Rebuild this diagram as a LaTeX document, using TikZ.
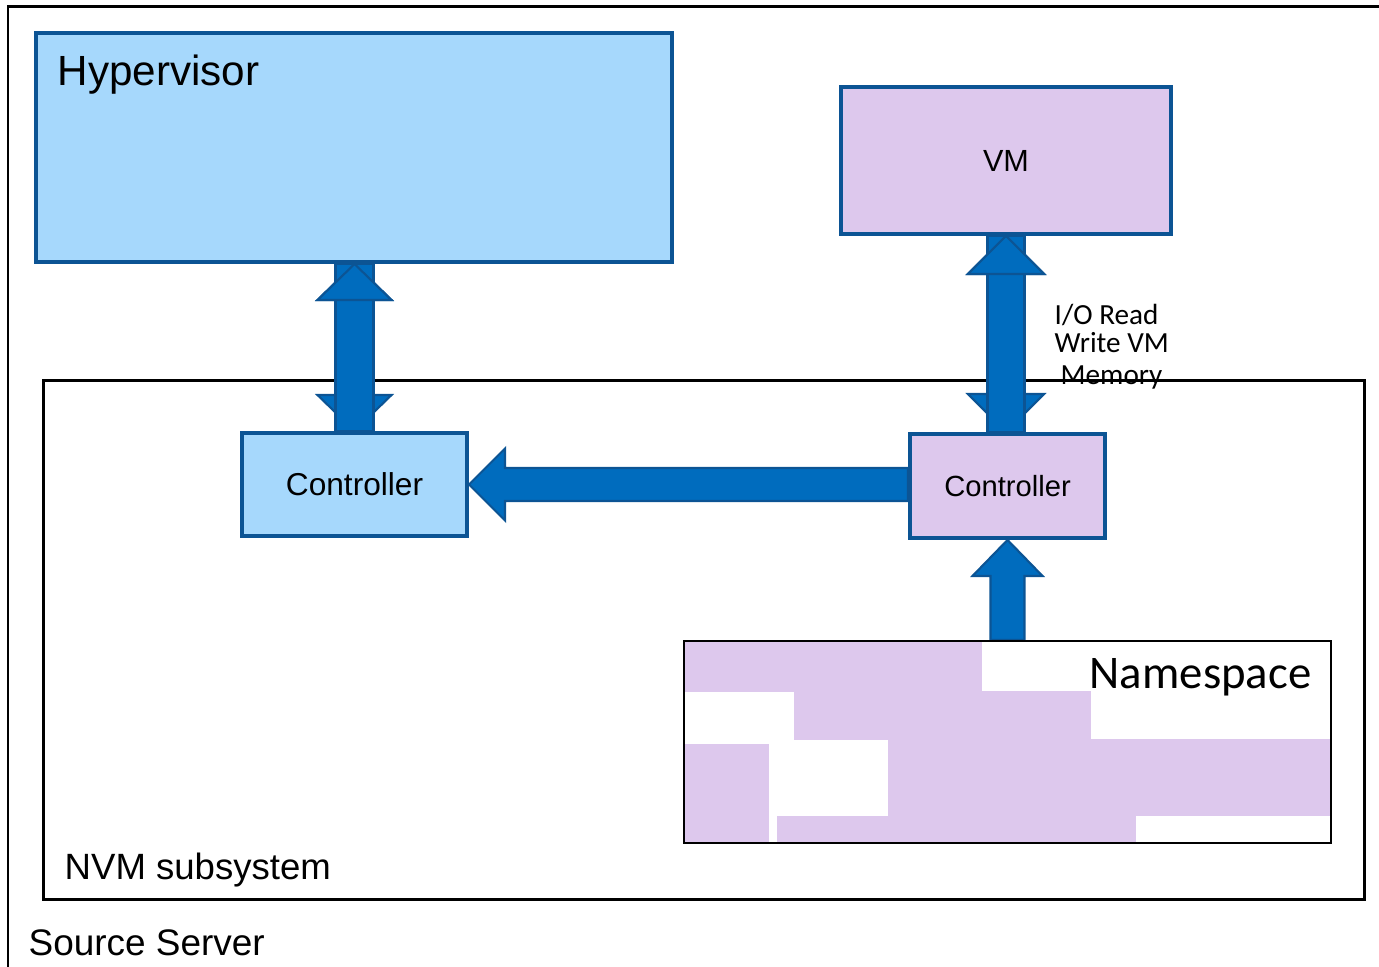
\documentclass[tikz,border=0pt]{standalone}
\usepackage{fontspec}
\setmainfont{Liberation Sans}
\newfontfamily\calibri{Carlito}
\usetikzlibrary{calc}
\definecolor{hvblue}{HTML}{A6D8FC}
\definecolor{vmlav}{HTML}{DDC8ED}
\definecolor{edgeblue}{HTML}{0C5494}
\definecolor{arrblue}{HTML}{006CBE}
\pgfdeclarelayer{back}
\pgfdeclarelayer{arrows}
\pgfsetlayers{back,arrows,main}
\tikzset{
  hvbox/.style={draw=edgeblue, fill=hvblue, line width=1.1pt, inner sep=0pt},
  vmbox/.style={hvbox, fill=vmlav},
  blockarrow/.style={draw=edgeblue, fill=arrblue, line width=0.6pt, line join=miter},
  lbl/.style={inner sep=0pt, anchor=base west},
}
\begin{document}
\begin{tikzpicture}[x=0.01cm, y=-0.01cm]
   \useasboundingbox (0,0) rectangle (1379,967);
   %
   % source server (runs off the page)
   \draw[line width=0.85pt] (1379,7) -- (8,7) -- (8,967);
   \node[lbl, font=\fontsize{10.5}{12}\selectfont] (srclabel) at (28,955) {Source Server};
   %
   % nvm subsystem
   \begin{pgfonlayer}{back}
     \node[draw, line width=0.85pt, minimum width=13.2cm, minimum height=5.18cm] (nvm) at (704,640) {};
   \end{pgfonlayer}
   \node[lbl, font=\fontsize{10.4}{12}\selectfont] (nvmlabel) at (64,879) {NVM subsystem};
   %
   % hypervisor and vm
   \node[hvbox, minimum width=6.36cm, minimum height=2.29cm] (hyp) at (354,147.5) {};
   \node[lbl, font=\fontsize{12}{14}\selectfont] (hyplabel) at (57,86) {Hypervisor};
   \node[vmbox, minimum width=3.3cm, minimum height=1.47cm, font=\fontsize{8.7}{10}\selectfont] (vm) at (1006,160.5) {VM};
   %
   % controllers
   \node[hvbox, minimum width=2.25cm, minimum height=1.03cm, font=\fontsize{9}{11}\selectfont] (ctrlA) at (354.5,484.5) {Controller};
   \node[vmbox, minimum width=1.95cm, minimum height=1.04cm, font=\fontsize{8.3}{10}\selectfont] (ctrlB) at (1007.5,486) {Controller};
   %
   % namespace
   \foreach \xa/\ya/\xb/\yb in {684/641/982/692, 794/691/1091/740, 684/744/769/843,
                                888/739/1331/816, 777/816/1136/843}
     \fill[vmlav] (\xa,\ya) rectangle (\xb,\yb);
   \node[draw, line width=0.6pt, minimum width=6.47cm, minimum height=2.02cm] (ns) at (1007.5,742) {};
   \node[inner sep=0pt, anchor=base east, font=\calibri\fontsize{13.3}{15}\selectfont] (nslabel) at (1312,688) {Namespace};
   %
   \node[anchor=north west, align=left, inner sep=0pt, font=\calibri\fontsize{8.3}{7.7}\selectfont] (iolabel) at (1054,304) {I/O Read\\Write VM\\[1.5pt]\hspace{1.7pt}Memory};
   %
   % block arrows
   \begin{pgfonlayer}{arrows}
     \coordinate (lt) at (hyp.south -| ctrlA.north);
     \draw[blockarrow] (lt) -- ++(37,36) -- ++(-18,0) -- ($(ctrlA.north)+(19,-36)$) -- ++(18,0)
        -- (ctrlA.north) -- ++(-37,-36) -- ++(18,0) -- ($(lt)+(-19,36)$) -- ++(-18,0) -- cycle;
     \draw[blockarrow] ($(lt)+(-19,0)$) rectangle ($(ctrlA.north)+(19,0)$);
     \draw[blockarrow] (lt) -- ++(37,36) -- ++(-74,0) -- cycle;
     %
     \coordinate (rb) at (vm.south |- ctrlB.north);
     \draw[blockarrow] (vm.south) -- ++(38,38) -- ++(-19.5,0) -- ($(rb)+(18.5,-38)$) -- ++(19.5,0)
        -- (rb) -- ++(-38,-38) -- ++(19.5,0) -- ($(vm.south)+(-18.5,38)$) -- ++(-19.5,0) -- cycle;
     \draw[blockarrow] ($(vm.south)+(-18.5,0)$) rectangle ($(rb)+(18.5,0)$);
     \draw[blockarrow] (vm.south) -- ++(38,38) -- ++(-76,0) -- cycle;
     %
     \coordinate (nb) at (ctrlB.south |- ns.north);
     \draw[blockarrow] (ctrlB.south) -- ++(35,36) -- ++(-18,0) -- ($(nb)+(17,0)$)
        -- ($(nb)+(-17,0)$) -- ($(ctrlB.south)+(-17,36)$) -- ++(-18,0) -- cycle;
     %
     \coordinate (ht) at (ctrlB.west |- ctrlA.east);
     \draw[blockarrow] (ctrlA.east) -- ++(36,-36) -- ++(0,19.5) -- ($(ht)+(0,-16.5)$)
        -- ($(ht)+(0,16.5)$) -- ($(ctrlA.east)+(36,16.5)$) -- ++(0,19.5) -- cycle;
   \end{pgfonlayer}
   %
\end{tikzpicture}
\end{document}
